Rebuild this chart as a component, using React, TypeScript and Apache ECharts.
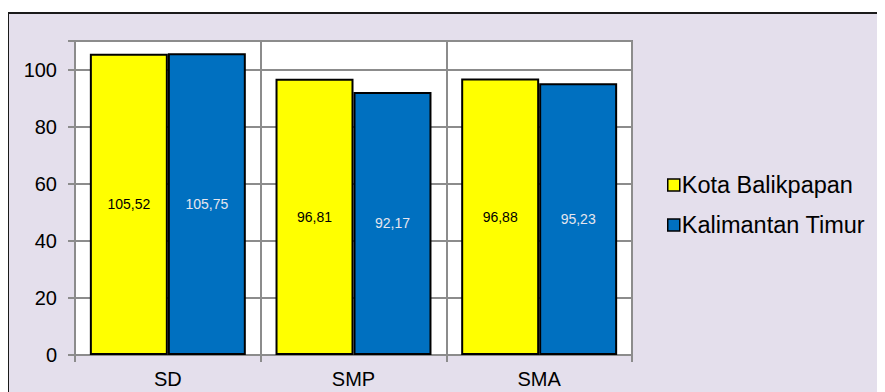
import React, { useEffect, useRef } from "react";
import * as echarts from "echarts";

const categories = ["SD", "SMP", "SMA"];
const seriesNames = ["Kota Balikpapan", "Kalimantan Timur"];
const kotaBalikpapan = [105.52, 96.81, 96.88];
const kalimantanTimur = [105.75, 92.17, 95.23];
const yTicks = [0, 20, 40, 60, 80, 100];

const FONT = "'Liberation Sans', Arial, sans-serif";

export default function App() {
  const ref = useRef<HTMLDivElement>(null);
  useEffect(() => {
    if (!ref.current) return;
    const chart = echarts.init(ref.current, undefined, { renderer: "svg" });
    const fmt = (p: any) => Number(p.value).toFixed(2).replace(".", ",");
    chart.setOption({
      animation: false,
      textStyle: { fontFamily: FONT },
      graphic: [
        {
          type: "rect",
          z: -100,
          silent: true,
          shape: { x: 0, y: 5, width: 900, height: 420 },
          style: { fill: "#E4DFEC", stroke: "#1a1a1a", lineWidth: 2 },
        },
      ],
      grid: {
        left: 67,
        top: 33,
        width: 557,
        height: 314,
        show: true,
        backgroundColor: "#ffffff",
        borderColor: "#404040",
        borderWidth: 1.5,
        containLabel: false,
      },
      legend: {
        orient: "vertical",
        left: 659,
        top: 165,
        padding: 0,
        itemWidth: 12,
        itemHeight: 12,
        itemGap: 16,
        icon: "rect",
        textStyle: { fontSize: 23.5, color: "#000", fontFamily: FONT, padding: [0, 0, 0, -3] },
        data: seriesNames.map((n) => ({ name: n, itemStyle: { borderColor: "#000", borderWidth: 1.5 } })),
      },
      xAxis: {
        type: "category",
        data: categories,
        boundaryGap: true,
        axisLine: { show: true, lineStyle: { color: "#8c8c8c", width: 2 } },
        axisTick: { show: true, length: 7, lineStyle: { color: "#8c8c8c", width: 2 } },
        axisLabel: { color: "#000", fontSize: 20, margin: 14, fontFamily: FONT },
        splitLine: { show: true, lineStyle: { color: "#8c8c8c", width: 2 } },
      },
      yAxis: {
        type: "value",
        min: 0,
        max: 110,
        interval: 20,
        axisLine: { show: true, lineStyle: { color: "#8c8c8c", width: 2 } },
        axisTick: { show: true, length: 7, lineStyle: { color: "#8c8c8c", width: 2 } },
        axisLabel: {
          color: "#000",
          fontSize: 20,
          margin: 18,
          fontFamily: FONT,
          formatter: (v: number) => (yTicks.includes(v) ? String(v) : ""),
        },
        splitLine: { show: true, lineStyle: { color: "#8c8c8c", width: 2 } },
      },
      series: [
        {
          name: seriesNames[0],
          type: "bar",
          data: kotaBalikpapan,
          barGap: "0%",
          barCategoryGap: "16%",
          itemStyle: { color: "#FFFF00", borderColor: "#000", borderWidth: 2 },
          label: { show: true, position: "inside", color: "#000", fontSize: 14, fontFamily: FONT, formatter: fmt },
        },
        {
          name: seriesNames[1],
          type: "bar",
          data: kalimantanTimur,
          barGap: "0%",
          barCategoryGap: "16%",
          itemStyle: { color: "#0070C0", borderColor: "#000", borderWidth: 2 },
          label: { show: true, position: "inside", color: "#e6e6ee", fontSize: 14, fontFamily: FONT, formatter: fmt },
        },
      ],
    });
    return () => chart.dispose();
  }, []);
  return <div ref={ref} style={{ width: 877, height: 384 }} />;
}
